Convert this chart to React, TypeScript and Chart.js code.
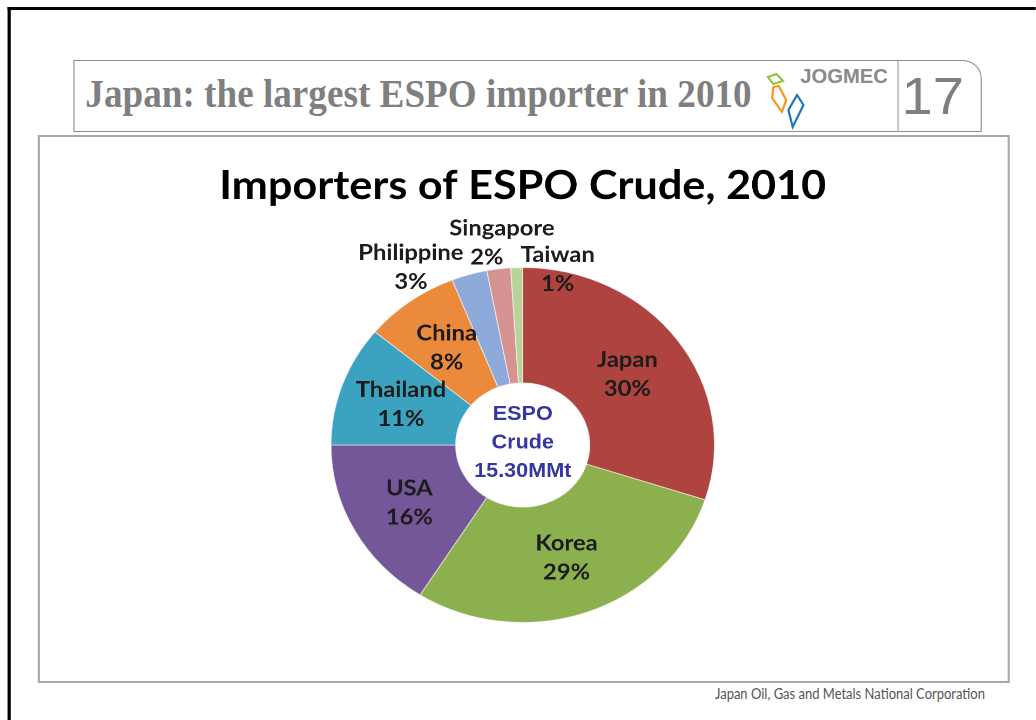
import React, { useEffect, useLayoutEffect, useRef } from "react";
import { Chart, registerables } from "chart.js";

Chart.register(...registerables);

// ---- data ----
const categories = ["Japan", "Korea", "USA", "Thailand", "China", "Philippine", "Singapore", "Taiwan"];
const shares = [30, 29, 16, 11, 8, 3, 2, 1];
const sliceColors = ["#AF433F", "#8DB04E", "#735799", "#3BA2BF", "#EC8A3B", "#8EAADB", "#D79391", "#B9D49A"];
// labels for thin slices sit outside the ring: offset from the outer edge at the slice's mid-angle
const outsideLabelOffsets: ([number, number] | null)[] = [null, null, null, null, null, [-54, -7], [3, -26], [38, 2]];
const percentShiftX = [0, 0, 0, 0, 0, 0, -14, 0];
const centerLines = ["ESPO", "Crude", "15.30MMt"];
const chartTitle = "Importers of ESPO Crude, 2010";
const slideTitle = "Japan: the largest ESPO importer in 2010";
const slideNumber = "17";
const logoText = "JOGMEC";
const footerText = "Japan Oil, Gas and Metals National Corporation";

const STRETCH = 1.08;

const labelPlugin = {
  id: "sliceLabels",
  afterDatasetsDraw(chart: any) {
    const ctx = chart.ctx;
    const meta = chart.getDatasetMeta(0);
    const lineGap = 29;
    ctx.save();
    ctx.textAlign = "center";
    ctx.textBaseline = "middle";
    ctx.font = "bold 22px Lato";
    ctx.fillStyle = "#1c1c1c";
    let cxAll = 0;
    let cyAll = 0;
    meta.data.forEach((arc: any, i: number) => {
      const p = arc.getProps(["x", "y", "startAngle", "endAngle", "innerRadius", "outerRadius"], true);
      cxAll = p.x;
      cyAll = p.y;
      const mid = (p.startAngle + p.endAngle) / 2;
      const off = outsideLabelOffsets[i];
      let cx: number;
      let cy: number;
      if (off) {
        cx = p.x + Math.cos(mid) * p.outerRadius + off[0];
        cy = p.y + Math.sin(mid) * p.outerRadius + off[1];
      } else {
        const r = (p.innerRadius + p.outerRadius) / 2;
        cx = p.x + Math.cos(mid) * r;
        cy = p.y + Math.sin(mid) * r;
      }
      ctx.fillText(categories[i], cx, cy - lineGap / 2);
      ctx.fillText(`${shares[i]}%`, cx + percentShiftX[i], cy + lineGap / 2);
    });
    ctx.font = "bold 20px 'Liberation Sans', Arial, sans-serif";
    ctx.fillStyle = "#3636A2";
    centerLines.forEach((t, k) => ctx.fillText(t, cxAll, cyAll + (k - 1) * 28.5 - 2));
    ctx.restore();
  },
};

function DoughnutChart() {
  const ref = useRef<HTMLCanvasElement | null>(null);
  useEffect(() => {
    if (!ref.current) return;
    const chart = new Chart(ref.current, {
      type: "doughnut",
      data: {
        labels: categories,
        datasets: [
          {
            data: shares,
            backgroundColor: sliceColors,
            borderColor: "rgba(255,255,255,0.55)",
            borderWidth: 1,
          },
        ],
      },
      options: {
        responsive: false,
        animation: false,
        devicePixelRatio: 2,
        cutout: "35%",
        layout: { padding: { top: 0, bottom: 58, left: 0, right: 0 } },
        plugins: {
          legend: { display: false },
          tooltip: { enabled: false },
          title: {
            display: true,
            text: chartTitle,
            color: "#000000",
            font: { family: "Lato", size: 40, weight: "bold", lineHeight: 1.2 },
            padding: { top: 25, bottom: 57 },
          },
        },
      },
      plugins: [labelPlugin],
    });
    return () => chart.destroy();
  }, []);
  return <canvas ref={ref} width={894} height={544} style={{ position: "absolute", left: 37, top: 137, width: 894, height: 544 }} />;
}

// text squeezed horizontally to a target width (the slide uses condensed faces)
function FitText(props: { text: string; width: number; style: React.CSSProperties }) {
  const ref = useRef<HTMLSpanElement | null>(null);
  useLayoutEffect(() => {
    const el = ref.current;
    if (!el) return;
    el.style.transform = "none";
    const w = el.getBoundingClientRect().width / STRETCH;
    if (w > 0) el.style.transform = `scaleX(${props.width / w})`;
  }, [props.text, props.width]);
  return (
    <span
      ref={ref}
      style={{ display: "inline-block", whiteSpace: "nowrap", transformOrigin: "0 0", ...props.style }}
    >
      {props.text}
    </span>
  );
}

export default function App() {
  return (
    <div
      style={{
        position: "fixed",
        left: 0,
        top: 0,
        width: 1036 / STRETCH,
        height: 720,
        overflow: "hidden",
        background: "#ffffff",
        transform: `scaleX(${STRETCH})`,
        transformOrigin: "0 0",
      }}
    >
      {/* outer slide frame */}
      <div
        style={{
          position: "absolute",
          left: 6.5,
          top: 7,
          width: 1000,
          height: 760,
          borderLeft: "3px solid #000",
          borderTop: "3px solid #000",
        }}
      />
      {/* header box */}
      <div
        style={{
          position: "absolute",
          left: 67.6,
          top: 59.5,
          width: 841.7,
          height: 72,
          boxSizing: "border-box",
          border: "1px solid #8C8C8C",
          borderTopRightRadius: 18,
        }}
      >
        <div style={{ position: "absolute", left: 10, top: -3, height: 70, lineHeight: "70px" }}>
          <FitText
            text={slideTitle}
            width={617}
            style={{
              fontFamily: "'Liberation Serif', 'Times New Roman', serif",
              fontWeight: "bold",
              fontSize: 41,
              color: "#7F7F7F",
            }}
          />
        </div>
        <div
          style={{
            position: "absolute",
            left: 762.7,
            top: 0,
            width: 1,
            height: 71,
            background: "#9A9A9A",
          }}
        />
        <div
          style={{
            position: "absolute",
            left: 765,
            top: 0,
            width: 60,
            height: 70,
            lineHeight: "70px",
            textAlign: "center",
            fontFamily: "'Liberation Sans', Arial, sans-serif",
            fontSize: 52,
            color: "#7F7F7F",
          }}
        >
          {slideNumber}
        </div>
      </div>
      {/* logo */}
      <svg style={{ position: "absolute", left: 705, top: 68 }} width={45} height={65}>
        <polygon points="6,9 14,6 20,13 11,16" fill="none" stroke="#8DC63F" strokeWidth={2} />
        <polygon points="11,19 16,18 23,32 19,44 10,30" fill="none" stroke="#F7941D" strokeWidth={2} />
        <polygon points="33,27 39,37 29,59 25,42" fill="none" stroke="#1C75BC" strokeWidth={2} />
      </svg>
      <div style={{ position: "absolute", left: 740.5, top: 66, lineHeight: "20px" }}>
        <FitText
          text={logoText}
          width={81}
          style={{
            fontFamily: "'Liberation Sans', Arial, sans-serif",
            fontWeight: "bold",
            fontSize: 21,
            color: "#8A8A8A",
          }}
        />
      </div>
      {/* chart box */}
      <div
        style={{
          position: "absolute",
          left: 35.2,
          top: 135,
          width: 899.5,
          height: 548,
          boxSizing: "border-box",
          border: "2px solid #A8A8A8",
          background: "#ffffff",
        }}
      />
      <DoughnutChart />
      {/* footer */}
      <div style={{ position: "absolute", left: 662, top: 684, lineHeight: "18px" }}>
        <FitText
          text={footerText}
          width={250}
          style={{
            fontFamily: "Lato, sans-serif",
            fontWeight: "normal",
            fontSize: 15.5,
            color: "#555555",
          }}
        />
      </div>
    </div>
  );
}
